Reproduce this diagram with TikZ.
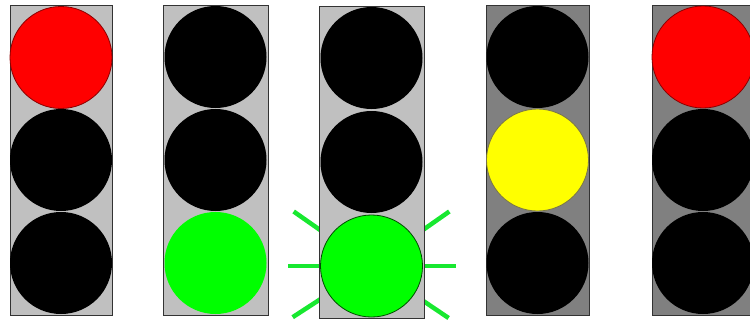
\documentclass[tikz,border=0pt]{standalone}
\definecolor{housinglight}{HTML}{C0C0C0}
\definecolor{housingdark}{HTML}{808080}
\definecolor{lampred}{HTML}{FF0000}
\definecolor{lampgreen}{HTML}{00FF00}
\definecolor{lampyellow}{HTML}{FFFF00}
\definecolor{raygreen}{HTML}{18E830}
\tikzset{
  housing/.style={draw=black!80, line width=1pt, rectangle, inner sep=0pt, minimum width=102pt, minimum height=310pt},
  lamp/.style={circle, inner sep=0pt, minimum size=102pt, fill=black},
  lit/.style={draw=#1, line width=0.8pt},
  ray/.style={draw=raygreen, line width=4.5pt}
}
\begin{document}
\begin{tikzpicture}[x=1pt,y=1pt]
\useasboundingbox (0,0) rectangle (750,325);
% rays of the blinking green lamp (drawn below the housing)
\coordinate (c3) at (371.5,59);
\draw[ray] (c3) ++(0:40) -- ++(0:44);
\draw[ray] (c3) ++(180:40) -- ++(180:44);
\draw[ray] (c3) ++(35:40) -- ++(35:55);
\draw[ray] (c3) ++(145:40) -- ++(145:55);
\draw[ray] (c3) ++(-34:40) -- ++(-34:53);
\draw[ray] (c3) ++(213:40) -- ++(213:54);
% housings
\node[housing, fill=housinglight] (h1) at (61,165) {};
\node[housing, fill=housinglight, minimum width=105pt] (h2) at (215.5,165) {};
\node[housing, fill=housinglight, minimum width=105pt, minimum height=312pt] (h3) at (371.5,163) {};
\node[housing, fill=housingdark, minimum width=103pt] (h4) at (537.5,165) {};
\node[housing, fill=housingdark, minimum width=103pt] (h5) at (703.5,165) {};
% light 1
\node[lamp, fill=lampred, lit=lampred!55!black] (l1a) at (61,267.5) {};
\node[lamp] (l1b) at (61,165) {};
\node[lamp] (l1c) at (61,62) {};
% light 2
\node[lamp] (l2a) at (215.5,268) {};
\node[lamp] (l2b) at (215.5,165) {};
\node[lamp, fill=lampgreen] (l2c) at (215.5,62) {};
% light 3
\node[lamp] (l3a) at (371.5,267) {};
\node[lamp] (l3b) at (371.5,163) {};
\node[lamp, fill=lampgreen, lit=black!70!green] (l3c) at (c3) {};
% light 4
\node[lamp] (l4a) at (537.5,268) {};
\node[lamp, fill=lampyellow, lit=yellow!40!black] (l4b) at (537.5,165) {};
\node[lamp] (l4c) at (537.5,62) {};
% light 5
\node[lamp, fill=lampred, lit=lampred!55!black] (l5a) at (703,268) {};
\node[lamp] (l5b) at (703,165) {};
\node[lamp] (l5c) at (703,62) {};
\end{tikzpicture}
\end{document}
